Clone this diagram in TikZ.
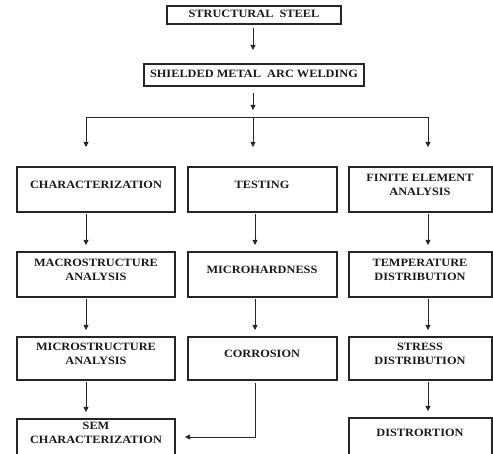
\documentclass[tikz,border=0pt]{standalone}
\usepackage{fontspec}
\setmainfont{Liberation Serif}[FakeStretch=1.1]
\usetikzlibrary{arrows.meta}
\tikzset{
  box/.style={draw=black!85, line width=1.1pt, inner sep=0pt, outer sep=0pt},
  lbl/.style={font=\fontsize{11.2}{14}\selectfont\bfseries, align=center, inner sep=0pt, text=black!90},
  arr/.style={draw=black!85, line width=0.8pt, -{Triangle[length=5pt,width=5pt]}},
  ln/.style={draw=black!85, line width=0.8pt}
}
\newcommand{\mybox}[5]{%
  \node[box, minimum width={(#4-#2)*1pt}, minimum height={(#5-#3)*1pt}] (#1) at ({(#2+#4)/2},{(#3+#5)/2}) {};}
\begin{document}
\begin{tikzpicture}[x=1pt,y=-1pt]
\useasboundingbox (0,0) rectangle (493,454);
\clip (0,0) rectangle (493,454);
% boxes
\mybox{ss}{167}{6}{341}{24}
\mybox{sm}{144}{64}{364}{86}
\mybox{a1}{17}{167}{175}{212}
\mybox{b1}{188}{167}{337}{212}
\mybox{c1}{349}{167}{492}{212}
\mybox{a2}{17}{252}{175}{297}
\mybox{b2}{188}{252}{337}{297}
\mybox{c2}{349}{252}{492}{297}
\mybox{a3}{17}{337}{175}{380}
\mybox{b3}{188}{337}{337}{380}
\mybox{c3}{349}{337}{492}{380}
\mybox{a4}{17}{419}{175}{480}
\mybox{c4}{349}{418}{492}{480}
% labels
\node[lbl] (sst) at (254,14) {STRUCTURAL\ \ STEEL};
\node[lbl] (smt) at (254,74) {SHIELDED METAL\ \ ARC WELDING};
\node[lbl] (a1t) at (96,185) {CHARACTERIZATION};
\node[lbl] (b1t) at (262,185) {TESTING};
\node[lbl] (c1t) at (420,185) {FINITE ELEMENT\\ANALYSIS};
\node[lbl] (a2t) at (96,270) {MACROSTRUCTURE\\ANALYSIS};
\node[lbl] (b2t) at (262,270) {MICROHARDNESS};
\node[lbl] (c2t) at (420,270) {TEMPERATURE\\DISTRIBUTION};
\node[lbl] (a3t) at (96,354) {MICROSTRUCTURE\\ANALYSIS};
\node[lbl] (b3t) at (262,354) {CORROSION};
\node[lbl] (c3t) at (420,354) {STRESS\\DISTRIBUTION};
\node[lbl] (a4t) at (96,433) {SEM\\CHARACTERIZATION};
\node[lbl] (c4t) at (420,433) {DISTRORTION};
% connectors
\coordinate (hl) at (86,117);
\coordinate (hm) at (253,117);
\coordinate (hr) at (428,117);
\coordinate (cb) at (255,437);
\draw[arr, shorten <=4pt, shorten >=14pt] (253,0 |- ss.south) -- (253,0 |- sm.north);
\draw[arr, shorten <=7pt] (253,0 |- sm.south) -- (253,110);
\draw[ln] (hl) -- (hr);
\draw[arr, shorten >=20pt] (hl) -- (hl |- a1.north);
\draw[arr, shorten >=20pt] (hm) -- (hm |- b1.north);
\draw[arr, shorten >=20pt] (hr) -- (hr |- c1.north);
\foreach \x/\u/\v in {86/a1/a2, 255/b1/b2, 428/c1/c2, 86/a2/a3, 255/b2/b3, 428/c2/c3, 86/a3/a4, 428/c3/c4}{
  \draw[arr, shorten <=2pt, shorten >=7pt] (\x,0 |- \u.south) -- (\x,0 |- \v.north);
}
\draw[arr, shorten <=3pt, shorten >=10pt] (255,0 |- b3.south) -- (cb) -- (cb -| a4.east);
\end{tikzpicture}
\end{document}
